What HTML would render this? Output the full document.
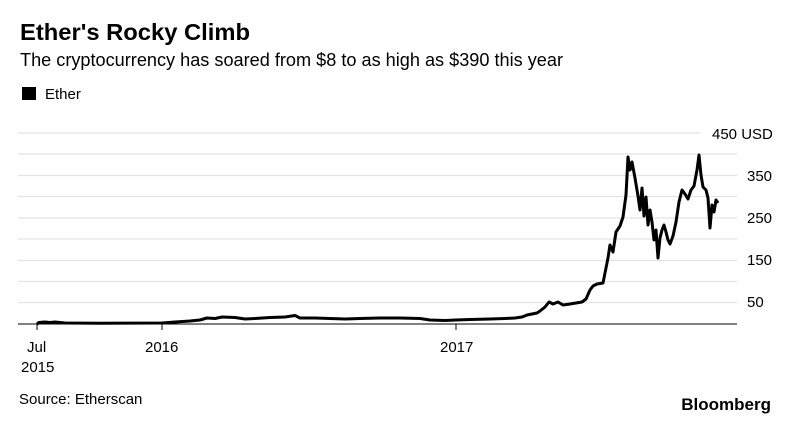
<!DOCTYPE html>
<html><head><meta charset="utf-8"><style>
body{margin:0;background:#fff;font-family:"Liberation Sans",Arial,sans-serif;}
</style></head><body>
<svg width="800" height="422" xmlns="http://www.w3.org/2000/svg" font-family="Liberation Sans, Arial, sans-serif">
<rect width="800" height="422" fill="#fff"/>
<text x="20" y="40" font-size="23" font-weight="bold" fill="#000" textLength="230" lengthAdjust="spacingAndGlyphs">Ether's Rocky Climb</text>
<text x="20" y="66" font-size="18" fill="#000" textLength="543" lengthAdjust="spacingAndGlyphs">The cryptocurrency has soared from $8 to as high as $390 this year</text>
<rect x="22" y="87" width="14" height="13" fill="#000"/>
<text x="45" y="99" font-size="15" fill="#000">Ether</text>
<g stroke="#e3e3e3" stroke-width="1.3">
<line x1="18" x2="700" y1="133" y2="133"/>
<line x1="18" x2="737" y1="154" y2="154"/>
<line x1="18" x2="737" y1="175.5" y2="175.5"/>
<line x1="18" x2="737" y1="196.5" y2="196.5"/>
<line x1="18" x2="737" y1="218" y2="218"/>
<line x1="18" x2="737" y1="239" y2="239"/>
<line x1="18" x2="737" y1="260.5" y2="260.5"/>
<line x1="18" x2="737" y1="281.5" y2="281.5"/>
<line x1="18" x2="737" y1="302.5" y2="302.5"/>
</g>
<line x1="18" x2="737" y1="324" y2="324" stroke="#000" stroke-width="1"/>
<g stroke="#000" stroke-width="1"><line x1="37" x2="37" y1="324" y2="330"/><line x1="162" x2="162" y1="324" y2="330"/><line x1="456" x2="456" y1="324" y2="330"/></g>
<g font-size="15" fill="#000">
<text x="712" y="139">450 USD</text>
<text x="747" y="181">350</text>
<text x="747" y="223">250</text>
<text x="747" y="265">150</text>
<text x="747" y="307">50</text>
<text x="27" y="352">Jul</text>
<text x="21" y="372">2015</text>
<text x="145" y="352">2016</text>
<text x="440" y="352">2017</text>
<text x="19" y="404">Source: Etherscan</text>
<text x="771" y="410" font-size="17" font-weight="bold" text-anchor="end">Bloomberg</text>
</g>
<polyline fill="none" stroke="#000" stroke-width="3" stroke-linejoin="round" points="37,324 39,322.5 45,322 50,322.5 55,322 60,322.5 65,323 100,323.3 162,323 175,322 190,321 200,320 207,318 215,318.5 222,317 235,317.5 245,319 255,318.5 270,317.5 285,317 295,315.5 300,318 315,318 330,318.5 345,319 360,318.5 380,318 400,318 420,318.5 430,320 445,320.5 456,320 470,319.5 490,319 505,318.5 515,318 522,317 527,315 532,314 537,313 540,311 545,307 549,302 553,304 558,302 563,305 570,304 576,303 582,302 586,299 590,290 593,286 597,284 603,283 606,268 608,258 610,245 613,252 616,232 620,226 623,217 626,195 628,157 630,170 632,162 635,178 638,196 640,210 642,188 644,216 646,197 648,225 650,210 652,222 654,240 656,230 658,258 660,238 662,230 664,225 666,232 668,240 670,244 673,236 676,222 679,202 682,190 685,194 688,199 691,190 694,186 697,170 699,155 701,175 703,187 706,190 708,198 710,228 712,205 714,212 716,200 718,203"/>
</svg>
</body></html>
